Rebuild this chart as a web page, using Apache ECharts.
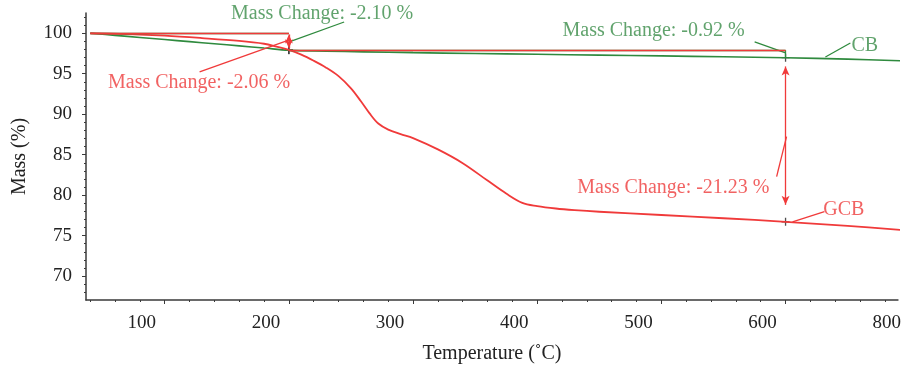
<!DOCTYPE html>
<html>
<head>
<meta charset="utf-8">
<script src="https://cdn.jsdelivr.net/npm/echarts@6/dist/echarts.min.js"></script>
<style>
  html, body { margin: 0; padding: 0; background: #ffffff; }
  #chart { width: 904px; height: 370px; }
</style>
</head>
<body>
<div id="chart"></div>
<script>
// TGA mass-loss curves for CB and GCB
const cbTemp  = [40, 60, 80, 100, 120, 140, 160, 180, 200, 230, 260, 300, 350, 400, 450, 500, 550, 600, 650, 693];
const cbMass  = [100.0, 99.74, 99.48, 99.22, 98.96, 98.7, 98.44, 98.17, 97.9, 97.78, 97.7, 97.6, 97.5, 97.4, 97.3, 97.2, 97.09, 96.98, 96.8, 96.6];

const gcbTemp = [40, 70, 100, 130, 160, 180, 190, 200, 210, 220, 230, 240, 250, 258, 265, 272, 280, 290, 300, 320, 340, 360, 375, 388, 400, 415, 430, 450, 500, 550, 600, 650, 693];
const gcbMass = [100.0, 99.9, 99.7, 99.4, 99.05, 98.7, 98.35, 97.94, 97.35, 96.6, 95.75, 94.7, 93.2, 91.6, 90.1, 88.85, 88.1, 87.55, 87.05, 85.65, 83.95, 81.8, 80.2, 79.05, 78.65, 78.35, 78.15, 77.95, 77.55, 77.15, 76.71, 76.2, 75.7];

// step evaluation points (temperature, mass) and the reported changes
const stepTemps   = [200, 600];
const cbStepMass  = [97.9, 96.98];    // -2.10 %, then -0.92 %
const gcbStepMass = [97.94, 76.71];   // -2.06 %, then -21.23 %
const startTemp   = 40;

// axis ticks (labels sit a little left of their tick marks)
const xMajorTicks = [100, 200, 300, 400, 500, 600];
const xLabelTicks = [100, 200, 300, 400, 500, 600, 700];
const xTickLabels = ['100', '200', '300', '400', '500', '600', '800'];
const yMajorTicks = [70, 75, 80, 85, 90, 95, 100];
const yTickLabels = ['70', '75', '80', '85', '90', '95', '100'];

// annotation texts and their anchor points (temperature, mass)
const noteText = ['Mass Change: -2.10 %', 'Mass Change: -2.06 %', 'Mass Change: -0.92 %', 'CB', 'Mass Change: -21.23 %', 'GCB'];
const noteTemp = [226.8, 127.7, 493.7, 663.8, 509.7, 646.9];
const noteMass = [102.4, 93.86, 100.28, 98.49, 80.9, 78.18];
const noteSeries = ['CB', 'GCB', 'CB', 'CB', 'GCB', 'GCB'];
// leader lines from each note to its curve: [[t0, m0], [t1, m1]]
const leaderLines = [
  [[200.3, 98.93], [244.5, 101.39]],
  [[128.1, 95.22], [198.7, 99.09]],
  [[575.1, 98.93], [600.0, 97.57]],
  [[632.1, 97.07], [652.2, 98.80]],
  [[592.8, 82.28], [600.8, 87.22]],
  [[605.6, 76.70], [631.3, 77.96]]
];

const GREEN = '#2f8a3e';
const GREEN_TEXT = '#3a8c48';
const RED = '#f03a3a';
const RED_TEXT = '#ee3b3b';
const FONT = "'Liberation Serif', 'DejaVu Serif', serif";

const xMin = 36.6, xMax = 690.5;
const yMin = 67.05, yMax = 102.5;
const xLabelShift = 18.5;   // labels drawn this many degrees left of their tick

const xMinorTicks = [];
for (let t = 40; t <= 680; t += 20) if (t % 100 !== 0) xMinorTicks.push(t);
const yMinorTicks = [];
for (let m = 68; m <= 102; m += 1) if (m % 5 !== 0) yMinorTicks.push(m);

const zip = (a, b) => a.map((v, i) => [v, b[i]]);
const xLabelPos = xLabelTicks.map(v => v - xLabelShift);

function seg(p0, p1, color, arrows) {
  return [
    { coord: p0, symbol: arrows ? 'arrow' : 'none', lineStyle: { color: color } },
    { coord: p1, symbol: arrows ? 'arrow' : 'none' }
  ];
}

const cbMarks = [
  seg([startTemp, 100], [stepTemps[0], 100], GREEN, false),
  seg([stepTemps[0], cbStepMass[0]], [stepTemps[1], cbStepMass[0]], GREEN, false),
  seg([stepTemps[1], cbStepMass[0]], [stepTemps[1], cbStepMass[1]], GREEN, false)
];
const gcbMarks = [
  seg([startTemp, 100], [stepTemps[0], 100], RED, false),
  seg([stepTemps[0], gcbStepMass[0]], [stepTemps[1], gcbStepMass[0]], RED, false),
  seg([stepTemps[0], 99.85], [stepTemps[0], 98.15], RED, true),
  seg([stepTemps[1], 95.9], [stepTemps[1], 78.8], RED, true)
];
leaderLines.forEach((l, i) => {
  const c = noteSeries[i] === 'CB' ? GREEN : RED;
  (noteSeries[i] === 'CB' ? cbMarks : gcbMarks).push(seg(l[0], l[1], c, false));
});

const chart = echarts.init(document.getElementById('chart'));

const axisLineStyle = { color: '#3a3a3a', width: 1.5 };

chart.setOption({
  animation: false,
  backgroundColor: '#ffffff',
  grid: { left: 86, right: 0, top: 13, bottom: 70, containLabel: false },
  xAxis: [
    {
      type: 'value', min: xMin, max: xMax, position: 'bottom',
      name: 'Temperature (˚C)', nameLocation: 'middle', nameGap: 44,
      nameTextStyle: { fontFamily: FONT, fontSize: 20, color: '#222' },
      axisLine: { show: true, onZero: false, lineStyle: axisLineStyle },
      axisTick: { show: true, length: 4, customValues: xMajorTicks, lineStyle: { color: '#3a3a3a' } },
      axisLabel: {
        customValues: xLabelPos,
        formatter: v => xTickLabels[xLabelPos.indexOf(v)],
        fontFamily: FONT, fontSize: 19, color: '#222', margin: 14
      },
      splitLine: { show: false }
    },
    {
      type: 'value', min: xMin, max: xMax, position: 'bottom', gridIndex: 0,
      axisLine: { show: false, onZero: false },
      axisTick: { show: true, length: 2, customValues: xMinorTicks, lineStyle: { color: '#3a3a3a' } },
      axisLabel: { show: false },
      splitLine: { show: false }
    }
  ],
  yAxis: [
    {
      type: 'value', min: yMin, max: yMax, position: 'left',
      name: 'Mass (%)', nameLocation: 'middle', nameGap: 56,
      nameTextStyle: { fontFamily: FONT, fontSize: 20, color: '#222' },
      axisLine: { show: true, onZero: false, lineStyle: axisLineStyle },
      axisTick: { show: true, length: 4, customValues: yMajorTicks, lineStyle: { color: '#3a3a3a' } },
      axisLabel: {
        customValues: yMajorTicks,
        formatter: v => yTickLabels[yMajorTicks.indexOf(v)],
        fontFamily: FONT, fontSize: 19, color: '#222', margin: 14
      },
      splitLine: { show: false }
    },
    {
      type: 'value', min: yMin, max: yMax, position: 'left', gridIndex: 0,
      axisLine: { show: false, onZero: false },
      axisTick: { show: true, length: 2, customValues: yMinorTicks, lineStyle: { color: '#3a3a3a' } },
      axisLabel: { show: false },
      splitLine: { show: false }
    }
  ],
  series: [
    {
      name: 'CB', type: 'line', xAxisIndex: 0, yAxisIndex: 0,
      data: zip(cbTemp, cbMass), showSymbol: false, smooth: 0.35,
      lineStyle: { color: GREEN, width: 1.6 }, silent: true,
      markLine: {
        silent: true, animation: false, symbolSize: [6, 9],
        label: { show: false },
        lineStyle: { type: 'solid', width: 1.3, color: GREEN },
        data: cbMarks
      }
    },
    {
      name: 'GCB', type: 'line', xAxisIndex: 0, yAxisIndex: 0,
      data: zip(gcbTemp, gcbMass), showSymbol: false, smooth: 0.35,
      lineStyle: { color: RED, width: 1.8 }, silent: true,
      markLine: {
        silent: true, animation: false, symbolSize: [6, 9],
        label: { show: false },
        lineStyle: { type: 'solid', width: 1.3, color: RED },
        data: gcbMarks
      }
    },
    {
      name: 'steps', type: 'scatter', xAxisIndex: 0, yAxisIndex: 0, silent: true,
      symbol: 'path://M0 5 L10 5 M5 0 L5 10', symbolSize: 8,
      itemStyle: { color: 'transparent', borderColor: '#222', borderWidth: 1.3 },
      data: [
        [stepTemps[0], cbStepMass[0]], [stepTemps[0], gcbStepMass[0]],
        [stepTemps[1], cbStepMass[1]], [stepTemps[1], gcbStepMass[1]]
      ]
    },
    {
      name: 'notes', type: 'scatter', xAxisIndex: 0, yAxisIndex: 0, silent: true,
      symbolSize: 1, itemStyle: { color: 'transparent' },
      data: noteText.map((t, i) => ({
        value: [noteTemp[i], noteMass[i]],
        label: {
          show: true, position: 'inside', formatter: t,
          fontFamily: FONT, fontSize: 20,
          color: noteSeries[i] === 'CB' ? GREEN_TEXT : RED_TEXT
        }
      }))
    }
  ]
});
</script>
</body>
</html>
